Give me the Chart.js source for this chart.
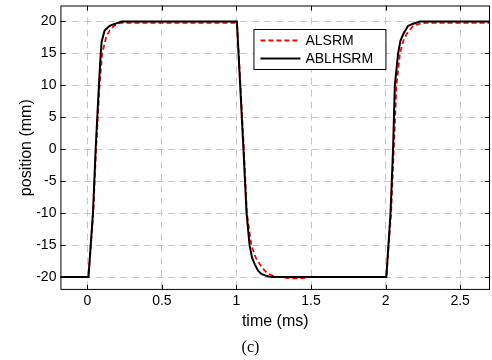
<!DOCTYPE html>
<html>
<head>
<meta charset="utf-8">
<script src="https://cdn.jsdelivr.net/npm/chart.js@4.4.1/dist/chart.umd.min.js"></script>
<style>
  html, body { margin: 0; padding: 0; background: #fff; }
  #wrap { width: 492px; height: 360px; }
</style>
</head>
<body>
<div id="wrap"><canvas id="posChart"></canvas></div>
<script>
// tick values
const xTicks = [0, 0.5, 1, 1.5, 2, 2.5];
const yTicks = [-20, -15, -10, -5, 0, 5, 10, 15, 20];

// ALSRM (red dashed)
const alsrmTime = [-0.18, 0.008, 0.04, 0.059, 0.082, 0.1, 0.127, 0.15, 0.183, 0.228, 0.26,
  1.004, 1.027, 1.05, 1.07, 1.1, 1.13, 1.157, 1.19, 1.215, 1.26, 1.3, 1.37, 1.42, 1.5,
  2.005, 2.037, 2.055, 2.073, 2.096, 2.12, 2.14, 2.185, 2.22, 2.275, 2.7];
const alsrmPos = [-20, -20, -10, 0, 10, 15, 17.6, 18.6, 19.4, 19.8, 19.8,
  19.8, 10, 0, -10, -15, -17, -18, -19, -19.5, -19.9, -20, -20.2, -20.2, -20,
  -20, -10, 0, 10, 15, 17, 18, 19.3, 19.6, 19.8, 19.8];

// ABLHSRM (black solid)
const ablhsrmTime = [-0.18, 0.008, 0.038, 0.056, 0.078, 0.09, 0.096, 0.116, 0.15, 0.17, 0.23,
  1.003, 1.025, 1.047, 1.068, 1.088, 1.105, 1.123, 1.145, 1.167, 1.2, 1.235,
  2.005, 2.033, 2.05, 2.062, 2.084, 2.1, 2.118, 2.15, 2.18, 2.23, 2.7];
const ablhsrmPos = [-20, -20, -10, 0, 10, 15, 16.8, 18.6, 19.3, 19.5, 20,
  20, 10, 0, -10, -15, -17, -18, -19, -19.5, -19.8, -20,
  -20, -10, 0, 10, 15, 17, 18, 19.3, 19.6, 20, 20];

const toPoints = (ts, ys) => ts.map((t, i) => ({ x: t, y: ys[i] }));

// frame box with inward ticks, legend box
const framePlugin = {
  id: 'frame',
  afterDraw(chart) {
    const { ctx, chartArea: a, scales } = chart;
    const tl = 5;
    ctx.save();
    ctx.strokeStyle = '#000';
    ctx.lineWidth = 1;
    ctx.strokeRect(a.left + 0.5, a.top + 0.5, a.right - a.left - 1, a.bottom - a.top - 1);
    ctx.beginPath();
    xTicks.forEach(v => {
      const px = Math.round(scales.x.getPixelForValue(v)) + 0.5;
      ctx.moveTo(px, a.bottom); ctx.lineTo(px, a.bottom - tl);
      ctx.moveTo(px, a.top); ctx.lineTo(px, a.top + tl);
    });
    yTicks.forEach(v => {
      const py = Math.round(scales.y.getPixelForValue(v)) + 0.5;
      ctx.moveTo(a.left, py); ctx.lineTo(a.left + tl, py);
      ctx.moveTo(a.right, py); ctx.lineTo(a.right - tl, py);
    });
    ctx.stroke();

    // legend
    const lx = a.left + 193, ly = 29, lw = 132, lh = 40;
    ctx.fillStyle = '#fff';
    ctx.fillRect(lx, ly, lw, lh);
    ctx.strokeRect(lx + 0.5, ly + 0.5, lw, lh);
    ctx.font = '14px "Liberation Sans", Arial, sans-serif';
    ctx.textBaseline = 'middle';
    [0, 1].forEach((di, k) => {
      const ds = chart.data.datasets[di];
      const yy = ly + 11.5 + k * 18;
      ctx.beginPath();
      ctx.strokeStyle = ds.borderColor;
      ctx.lineWidth = ds.borderWidth;
      ctx.setLineDash(ds.borderDash || []);
      ctx.moveTo(lx + 7, yy); ctx.lineTo(lx + 47, yy);
      ctx.stroke();
      ctx.setLineDash([]);
      ctx.fillStyle = '#000';
      ctx.fillText(ds.label, lx + 52, yy + 1);
    });
    ctx.restore();
  }
};

const noPad = scale => {
  scale.paddingTop = 0; scale.paddingBottom = 0;
  scale.paddingLeft = 0; scale.paddingRight = 0;
};

new Chart(document.getElementById('posChart'), {
  type: 'line',
  data: {
    datasets: [
      {
        label: 'ALSRM',
        data: toPoints(alsrmTime, alsrmPos),
        borderColor: '#ff0000',
        borderWidth: 1.8,
        borderDash: [5, 3],
        pointRadius: 0,
        tension: 0,
        order: 1
      },
      {
        label: 'ABLHSRM',
        data: toPoints(ablhsrmTime, ablhsrmPos),
        borderColor: '#000000',
        borderWidth: 2,
        pointRadius: 0,
        tension: 0,
        order: 0
      }
    ]
  },
  options: {
    responsive: true,
    maintainAspectRatio: false,
    animation: false,
    layout: { padding: { left: 11, right: 2, top: 5.5, bottom: 0 } },
    plugins: {
      legend: { display: false },
      tooltip: { enabled: false },
      title: {
        display: true,
        position: 'bottom',
        text: '(c)',
        color: '#000',
        font: { family: '"Liberation Serif", "Times New Roman", serif', size: 16, weight: 'normal' },
        padding: { top: 7, bottom: 3 }
      }
    },
    scales: {
      x: {
        type: 'linear',
        min: -0.18,
        max: 2.7,
        afterBuildTicks: s => { s.ticks = xTicks.map(v => ({ value: v })); },
        afterFit: noPad,
        grid: { color: '#c8c8c8', lineWidth: 1, drawTicks: false },
        border: { display: false, dash: [7, 5] },
        ticks: {
          color: '#000',
          padding: 3.5,
          maxRotation: 0,
          font: { family: '"Liberation Sans", Arial, sans-serif', size: 14, lineHeight: 1.05 },
          callback: v => String(v)
        },
        title: {
          display: true,
          text: 'time (ms)',
          color: '#000',
          font: { family: '"Liberation Sans", Arial, sans-serif', size: 16 },
          padding: { top: 0, bottom: 0 }
        }
      },
      y: {
        min: -22,
        max: 22.5,
        afterBuildTicks: s => { s.ticks = yTicks.map(v => ({ value: v })); },
        afterFit: noPad,
        grid: { color: '#c8c8c8', lineWidth: 1, drawTicks: false },
        border: { display: false, dash: [7, 5] },
        ticks: {
          color: '#000',
          padding: 4,
          font: { family: '"Liberation Sans", Arial, sans-serif', size: 14 },
          callback: v => String(v)
        },
        title: {
          display: true,
          text: 'position (mm)',
          color: '#000',
          font: { family: '"Liberation Sans", Arial, sans-serif', size: 16 },
          padding: { top: 6, bottom: -4 }
        }
      }
    }
  },
  plugins: [framePlugin]
});
</script>
</body>
</html>
